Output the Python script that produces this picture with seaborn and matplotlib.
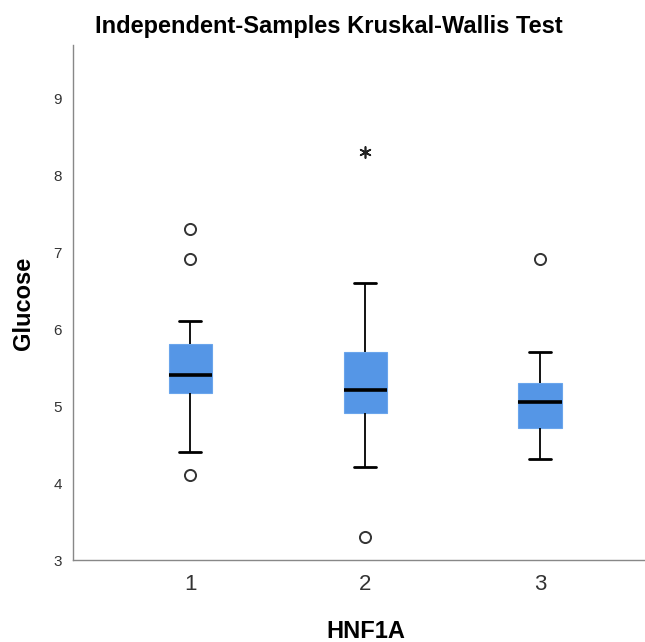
import matplotlib
matplotlib.use("Agg")
import matplotlib.pyplot as plt
import seaborn as sns
import pandas as pd

# ---- data ----
groups = ["1", "2", "3"]
lower_whisker = [4.40, 4.21, 4.31]
q1 = [5.17, 4.91, 4.72]
median = [5.41, 5.21, 5.06]
q3 = [5.81, 5.71, 5.30]
upper_whisker = [6.11, 6.61, 5.70]

outlier_groups = ["1", "1", "1", "2", "3"]
outlier_values = [7.31, 6.91, 4.10, 3.30, 6.91]

extreme_groups = ["2"]
extreme_values = [8.31]

title = "Independent-Samples Kruskal-Wallis Test"
x_label = "HNF1A"
y_label = "Glucose"
y_ticks = [3, 4, 5, 6, 7, 8, 9]

# ---- build long-form tables ----
rows = []
for g, lo, a, m, b, hi in zip(groups, lower_whisker, q1, median, q3, upper_whisker):
    for v in (lo, a, m, b, hi):
        rows.append({"HNF1A": g, "Glucose": v})
box_df = pd.DataFrame(rows)
out_df = pd.DataFrame({"HNF1A": outlier_groups, "Glucose": outlier_values})
ext_df = pd.DataFrame({"HNF1A": extreme_groups, "Glucose": extreme_values})

sns.set_theme(style="white")
plt.rcParams["font.family"] = ["Liberation Sans", "DejaVu Sans"]

fig = plt.figure(figsize=(6.45, 6.42), dpi=100)
ax = fig.add_axes([73 / 645, 82 / 642, 1 - 73 / 645, (560 - 45) / 642])

box_color = "#5596E6"
sns.boxplot(data=box_df, x="HNF1A", y="Glucose", order=groups, ax=ax,
            width=0.246, showfliers=False, color=box_color, saturation=1,
            whis=1.5,
            boxprops=dict(facecolor=box_color, edgecolor="#6AA5EC", linewidth=0.8),
            whiskerprops=dict(color="black", linewidth=1.3),
            capprops=dict(color="black", linewidth=2.0),
            medianprops=dict(color="black", linewidth=2.6))

sns.stripplot(data=out_df, x="HNF1A", y="Glucose", order=groups, ax=ax,
              jitter=False, marker="o", size=8, color="white",
              edgecolor="#333333", linewidth=1.4, zorder=5)
sns.stripplot(data=ext_df, x="HNF1A", y="Glucose", order=groups, ax=ax,
              jitter=False, marker=(6, 2, 0), size=8, color="#222222",
              edgecolor="#222222", linewidth=1.2, zorder=5)

ax.set_xlim(-0.669, 2.6)
ax.set_ylim(3, 9.70)
ax.set_yticks(y_ticks)
ax.set_yticklabels([str(t) for t in y_ticks])

for s in ("top", "right"):
    ax.spines[s].set_visible(False)
for s in ("left", "bottom"):
    ax.spines[s].set_color("#888888")
    ax.spines[s].set_linewidth(1.0)

ax.tick_params(axis="both", length=0)
ax.tick_params(axis="y", labelsize=11, labelcolor="#333333", pad=8)
ax.tick_params(axis="x", labelsize=16, labelcolor="#333333", pad=10)

ax.set_xlabel("")
ax.set_ylabel("")
fig.text(366 / 645, 1 - 632 / 642, x_label, ha="center", va="center",
         fontsize=17, fontweight="bold", color="black")
fig.text(24 / 645, 1 - 303 / 642, y_label, ha="center", va="center",
         rotation=90, fontsize=17, fontweight="bold", color="black")
fig.text(329 / 645, 1 - 27 / 642, title, ha="center", va="center",
         fontsize=17, fontweight="bold", color="black")

fig.savefig("out.png", dpi=100, facecolor="white")
